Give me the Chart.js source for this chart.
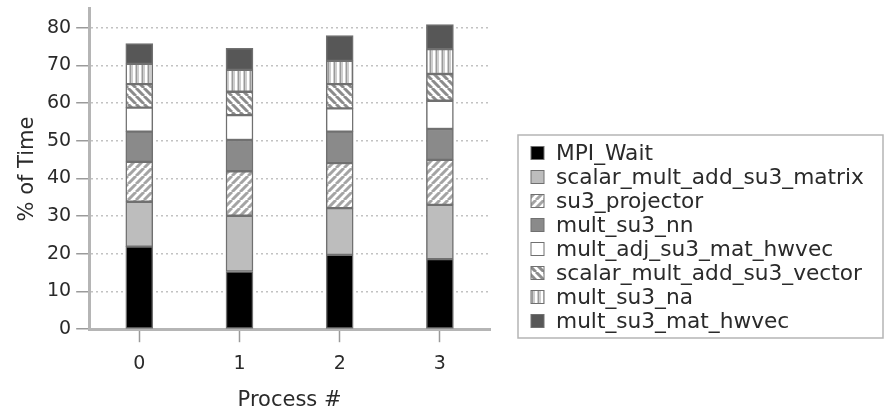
<!DOCTYPE html>
<html>
<head>
<meta charset="utf-8">
<script src="https://cdn.jsdelivr.net/npm/chart.js@4.4.1/dist/chart.umd.min.js"></script>
<style>
  html, body { margin: 0; padding: 0; background: #fff; }
</style>
</head>
<body>
<canvas id="timeChart" width="886" height="411"></canvas>
<script>
// process ranks on the x axis
const processes = ['0', '1', '2', '3'];
const yTicks = [0, 10, 20, 30, 40, 50, 60, 70, 80];

// % of time per routine, bottom of the stack first
const mpiWait                = [21.9, 15.3, 19.7, 18.6];
const scalarMultAddSu3Matrix = [11.9, 14.8, 12.4, 14.4];
const su3Projector           = [10.6, 11.8, 12.0, 11.9];
const multSu3Nn              = [8.0, 8.3, 8.3, 8.2];
const multAdjSu3MatHwvec     = [6.4, 6.6, 6.2, 7.5];
const scalarMultAddSu3Vector = [6.2, 6.2, 6.4, 7.1];
const multSu3Na              = [5.4, 5.8, 6.2, 6.6];
const multSu3MatHwvec        = [5.4, 5.7, 6.7, 6.5];

const routineNames = [
  'MPI_Wait', 'scalar_mult_add_su3_matrix', 'su3_projector', 'mult_su3_nn',
  'mult_adj_su3_mat_hwvec', 'scalar_mult_add_su3_vector', 'mult_su3_na', 'mult_su3_mat_hwvec'
];
const routineValues = [
  mpiWait, scalarMultAddSu3Matrix, su3Projector, multSu3Nn,
  multAdjSu3MatHwvec, scalarMultAddSu3Vector, multSu3Na, multSu3MatHwvec
];

const yMax = 85;

const canvas = document.getElementById('timeChart');
const ctx = canvas.getContext('2d');

// small repeating hatch tiles
function hatch(bg, fg, dir, size, lw) {
  const c = document.createElement('canvas');
  c.width = c.height = size;
  const g = c.getContext('2d');
  g.fillStyle = bg;
  g.fillRect(0, 0, size, size);
  g.strokeStyle = fg;
  g.lineWidth = lw;
  g.beginPath();
  if (dir === '/') {
    for (const o of [-size, 0, size]) { g.moveTo(o, size); g.lineTo(o + size, 0); }
  } else {
    for (const o of [-size, 0, size]) { g.moveTo(o, 0); g.lineTo(o + size, size); }
  }
  g.stroke();
  return ctx.createPattern(c, 'repeat');
}

function vstripes() {
  const c = document.createElement('canvas');
  c.width = 6; c.height = 6;
  const g = c.getContext('2d');
  g.fillStyle = '#cdcdcd';
  g.fillRect(0, 0, 6, 6);
  g.fillStyle = '#ffffff';
  g.fillRect(1, 0, 2, 6);
  g.fillStyle = '#9a9a9a';
  g.fillRect(4, 0, 1, 6);
  return ctx.createPattern(c, 'repeat');
}

const fills = [
  '#000000',
  '#bdbdbd',
  hatch('#ffffff', '#a4a4a4', '/', 8, 3),
  '#8a8a8a',
  '#ffffff',
  hatch('#ffffff', '#8c8c8c', '\\', 8, 3),
  vstripes(),
  '#575757'
];

const datasets = routineNames.map((name, i) => ({
  label: name,
  data: routineValues[i],
  backgroundColor: fills[i],
  borderColor: '#707070',
  borderWidth: 1.5,
  borderSkipped: false,
  barThickness: 27
}));

// framed legend to the right of the plot
const boxLegend = {
  id: 'boxLegend',
  afterDraw(chart, args, opts) {
    const c = chart.ctx;
    c.save();
    c.strokeStyle = '#b5b5b5';
    c.lineWidth = 1.5;
    c.strokeRect(opts.left, opts.top, opts.width, opts.height);
    c.font = opts.font;
    c.textBaseline = 'middle';
    chart.data.datasets.forEach((ds, i) => {
      const cy = opts.firstRow + i * opts.rowStep;
      c.fillStyle = ds.backgroundColor;
      c.fillRect(opts.left + 13, cy - 6.5, 13, 13);
      c.strokeStyle = '#707070';
      c.lineWidth = 1;
      c.strokeRect(opts.left + 13, cy - 6.5, 13, 13);
      c.fillStyle = '#2a2a2a';
      c.fillText(ds.label, opts.left + 38, cy + 1);
    });
    c.restore();
  }
};

Chart.defaults.font.family = '"DejaVu Sans", sans-serif';
Chart.defaults.color = '#2a2a2a';

new Chart(ctx, {
  type: 'bar',
  data: { labels: processes, datasets },
  plugins: [boxLegend],
  options: {
    responsive: false,
    animation: false,
    devicePixelRatio: 1,
    layout: { padding: { left: 0, right: 396, top: 8, bottom: 0 } },
    scales: {
      x: {
        stacked: true,
        grid: { offset: false, drawOnChartArea: false, tickLength: 13, tickColor: '#9a9a9a', tickWidth: 1.5 },
        border: { color: '#b5b5b5', width: 3 },
        ticks: { font: { size: 19 }, padding: 10 },
        title: {
          display: true, text: 'Process #',
          font: { size: 21, lineHeight: 1 },
          padding: { top: 5, bottom: 0 }
        }
      },
      y: {
        stacked: true,
        min: 0,
        max: yMax,
        afterBuildTicks: (scale) => {
          scale.ticks = yTicks.map(v => ({ value: v }));
        },
        grid: {
          color: '#c2c2c2', lineWidth: 1.5,
          tickLength: 13, tickColor: '#9a9a9a', tickWidth: 1.5, tickBorderDash: []
        },
        border: { color: '#b5b5b5', width: 3, dash: [2, 3] },
        // tight line height so the top label doesn't push the plot down
        ticks: { font: { size: 19, lineHeight: 0.4 }, padding: 5 },
        title: {
          display: true, text: '% of Time',
          font: { size: 21, lineHeight: 1 },
          padding: { top: 17, bottom: 4 }
        }
      }
    },
    plugins: {
      legend: { display: false },
      tooltip: { enabled: false },
      boxLegend: {
        left: 518, top: 135, width: 365, height: 203,
        firstRow: 153, rowStep: 24,
        font: '21.7px "DejaVu Sans"'
      }
    }
  }
});
</script>
</body>
</html>
